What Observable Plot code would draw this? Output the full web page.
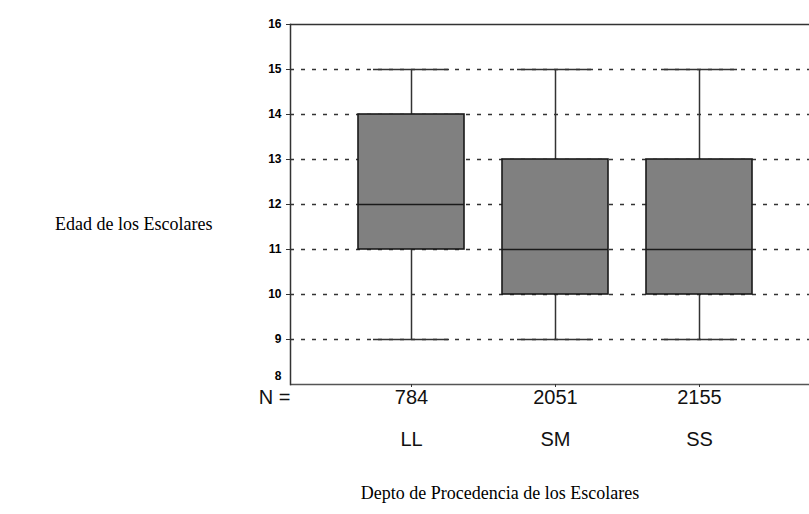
<!DOCTYPE html>
<html>
<head>
<meta charset="utf-8">
<script src="https://cdn.jsdelivr.net/npm/d3@7"></script>
<script src="https://cdn.jsdelivr.net/npm/@observablehq/plot@0.6"></script>
<style>
  html, body { margin: 0; padding: 0; background: #fff; }
</style>
</head>
<body>
<div id="chart"></div>
<script>
const categories = ["LL", "SM", "SS"];
const counts = [784, 2051, 2155];
const mins = [9, 9, 9];
const q1s = [11, 10, 10];
const medians = [12, 11, 11];
const q3s = [14, 13, 13];
const maxs = [15, 15, 15];
const yTicks = [9, 10, 11, 12, 13, 14, 15, 16];
const yBottomTick = [8];
const gridValues = [9, 10, 11, 12, 13, 14, 15];
const yTitle = "Edad de los Escolares";
const xTitle = "Depto de Procedencia de los Escolares";

const data = categories.map((c, i) => ({
  cat: c, n: counts[i], min: mins[i], q1: q1s[i], med: medians[i], q3: q3s[i], max: maxs[i]
}));

const line = "#333";
const sans = "Liberation Sans, Arial, sans-serif";
const serif = "Liberation Serif, Times New Roman, serif";

const chart = Plot.plot({
  width: 809,
  height: 514,
  marginLeft: 290,
  marginRight: 0,
  marginTop: 24,
  marginBottom: 130,
  x: { type: "band", domain: categories, range: [357, 753], paddingInner: 0.264, paddingOuter: 0, axis: null },
  y: { domain: [8, 16], axis: null },
  marks: [
    Plot.ruleY(gridValues, { stroke: line, strokeWidth: 1.5, strokeDasharray: "4,7" }),
    Plot.ruleY([16], { stroke: line, strokeWidth: 1.5 }),
    Plot.ruleY([8], { stroke: "#555", strokeWidth: 1.5 }),
    Plot.frame({ anchor: "left", stroke: line, strokeWidth: 1.5 }),
    Plot.ruleX(data, { x: "cat", y1: "min", y2: "q1", stroke: line, strokeWidth: 1.5 }),
    Plot.ruleX(data, { x: "cat", y1: "q3", y2: "max", stroke: line, strokeWidth: 1.5 }),
    Plot.tickY(data, { x: "cat", y: "min", insetLeft: 15, insetRight: 15, stroke: line, strokeWidth: 1.5 }),
    Plot.tickY(data, { x: "cat", y: "max", insetLeft: 15, insetRight: 15, stroke: line, strokeWidth: 1.5 }),
    Plot.barY(data, { x: "cat", y1: "q1", y2: "q3", fill: "#808080", stroke: "#1a1a1a", strokeWidth: 1.6 }),
    Plot.tickY(data, { x: "cat", y: "med", stroke: "#1a1a1a", strokeWidth: 1.6 }),
    Plot.axisY(yTicks, { tickSize: 4, tickPadding: 5, stroke: line, fontSize: 12, fontWeight: "bold", fontFamily: sans, label: null, tickFormat: d => d }),
    Plot.axisY(yBottomTick, { tickSize: 0, tickPadding: 9, dy: -8, fontSize: 12, fontWeight: "bold", fontFamily: sans, label: null, tickFormat: d => d }),
    Plot.axisX({ tickSize: 3, tickFormat: () => "", label: null, stroke: line }),
    Plot.text(data, { x: "cat", text: d => String(d.n), frameAnchor: "bottom", dy: 13, lineAnchor: "middle", fontSize: 20, fontFamily: sans, fill: "#111" }),
    Plot.text(data, { x: "cat", text: "cat", frameAnchor: "bottom", dy: 55, lineAnchor: "middle", fontSize: 20, fontFamily: sans, fill: "#111" }),
    Plot.text(["N ="], { frameAnchor: "bottom-left", textAnchor: "end", dx: 0, dy: 13, lineAnchor: "middle", fontSize: 20, fontFamily: sans, fill: "#111" }),
    Plot.text([yTitle], { frameAnchor: "left", textAnchor: "end", dx: -78, dy: 20, lineAnchor: "middle", fontSize: 18, fontFamily: serif, fill: "#000" }),
    Plot.text([xTitle], { frameAnchor: "bottom", dx: -50, dy: 109, lineAnchor: "middle", fontSize: 18, fontFamily: serif, fill: "#000" })
  ]
});
document.getElementById("chart").appendChild(chart);
</script>
</body>
</html>
